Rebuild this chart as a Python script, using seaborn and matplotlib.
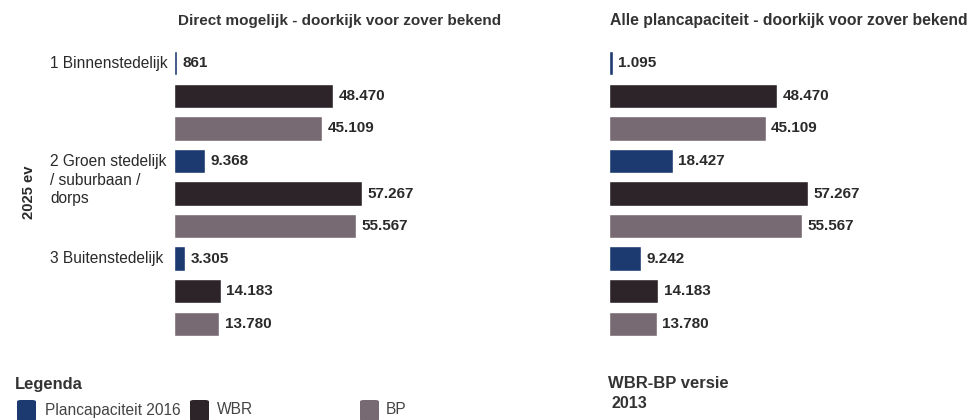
import matplotlib
matplotlib.use("Agg")
import matplotlib.pyplot as plt
import matplotlib.transforms as mtransforms
from matplotlib.patches import FancyBboxPatch
import pandas as pd
import seaborn as sns

# Categories and series
categories = ["1 Binnenstedelijk", "2 Groen stedelijk\n/ suburbaan /\ndorps", "3 Buitenstedelijk"]
series = ["Plancapaciteit 2016", "WBR", "BP"]
colors = ["#1c3a70", "#2c2428", "#786a72"]

# Values per panel
direct_plan = [861, 9368, 3305]
alle_plan = [1095, 18427, 9242]
wbr = [48470, 57267, 14183]
bp = [45109, 55567, 13780]

panel_titles = ["Direct mogelijk - doorkijk voor zover bekend",
                "Alle plancapaciteit - doorkijk voor zover bekend"]


def build_frame(plan):
    rows = []
    for i, cat in enumerate(categories):
        for s, vals in zip(series, [plan, wbr, bp]):
            rows.append({"row": f"{i}|{s}", "cat": cat, "series": s, "value": vals[i]})
    return pd.DataFrame(rows)


def fmt(v):
    return f"{v:,}".replace(",", ".")


sns.set_theme(style="white")
plt.rcParams["font.family"] = ["Liberation Sans", "DejaVu Sans"]
text_color = "#2a2a2a"
head_color = "#333333"

W, H = 972, 420
fig = plt.figure(figsize=(W / 100, H / 100), dpi=100)
fig.patch.set_facecolor("white")


def fx(px):
    return px / W


def fy(py):
    return 1 - py / H


axes_specs = [(174, 328), (609, 347)]
top_px, bot_px = 47, 340
title_sizes = [11.0, 11.3]

for k, (plan, (x0, wpx)) in enumerate(zip([direct_plan, alle_plan], axes_specs)):
    ax = fig.add_axes([fx(x0), fy(bot_px), wpx / W, (bot_px - top_px) / H])
    df = build_frame(plan)
    sns.barplot(data=df, x="value", y="row", hue="series", hue_order=series,
                palette=colors, dodge=False, width=0.75, saturation=1,
                orient="h", legend=False, ax=ax)
    ax.set_xlim(0, 100000)
    ax.set_ylim(len(df) - 0.5, -0.5)
    ax.axis("off")
    for idx, r in df.iterrows():
        ax.annotate(fmt(r["value"]), xy=(r["value"], idx), xytext=(4, 0),
                    textcoords="offset points", va="center", ha="left",
                    fontsize=11, fontweight="bold", color=text_color)
    fig.text(fx(x0 + 4 if k == 0 else x0 + 1), fy(21), panel_titles[k],
             ha="left", va="center", fontsize=title_sizes[k], fontweight="bold",
             color=head_color)
    if k == 0:
        trans = mtransforms.blended_transform_factory(fig.transFigure, ax.transData)
        fig.text(fx(50), 0, categories[0], transform=trans, ha="left", va="center",
                 fontsize=11.2, color=text_color)
        fig.text(fx(50), 3 - 0.21, categories[1], transform=trans, ha="left", va="top",
                 fontsize=11.2, color=text_color, linespacing=1.3)
        fig.text(fx(50), 6, categories[2], transform=trans, ha="left", va="center",
                 fontsize=11.2, color=text_color)

# Rotated group label
fig.text(fx(29), fy(192), "2025 ev", rotation=90, ha="center", va="center",
         fontsize=10.6, fontweight="bold", color=text_color)

# Legend
fig.text(fx(15), fy(385), "Legenda", ha="left", va="center",
         fontsize=11.9, fontweight="bold", color=head_color)
legend_items = [(17, 45), (190, 217), (360, 386)]
for (px, tx), label, c in zip(legend_items, series, colors):
    box = FancyBboxPatch((fx(px), fy(421)), 19 / W, 21 / H,
                         boxstyle="round,pad=0,rounding_size=0.004",
                         transform=fig.transFigure, facecolor=c, edgecolor="none")
    fig.patches.append(box)
    fig.text(fx(tx), fy(410), label, ha="left", va="center",
             fontsize=11.2, color="#444444")

fig.text(fx(608), fy(384), "WBR-BP versie", ha="left", va="center",
         fontsize=12, fontweight="bold", color=head_color)
fig.text(fx(611), fy(404), "2013", ha="left", va="center",
         fontsize=11.5, fontweight="bold", color=head_color)

fig.savefig("out.png", dpi=100, facecolor="white")
